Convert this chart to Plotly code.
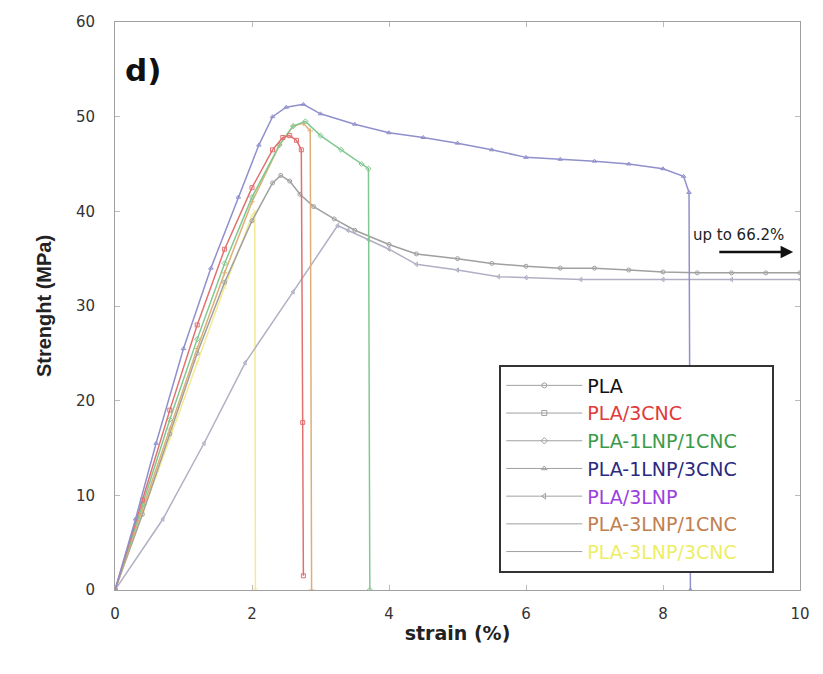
import plotly.graph_objects as go

# ---- data ----
pla_x = [0, 0.4, 0.8, 1.2, 1.6, 2.0, 2.3, 2.42, 2.55, 2.7, 2.9, 3.2, 3.5, 4.0, 4.4, 5.0, 5.5, 6.0, 6.5, 7.0, 7.5, 8.0, 8.5, 9.0, 9.5, 10.0]
pla_y = [0, 8, 16.5, 25, 32.5, 39, 43, 43.8, 43.2, 41.8, 40.5, 39.2, 38, 36.5, 35.5, 35, 34.5, 34.2, 34, 34, 33.8, 33.6, 33.5, 33.5, 33.5, 33.5]

cnc3_x = [0, 0.4, 0.8, 1.2, 1.6, 2.0, 2.3, 2.45, 2.55, 2.65, 2.72, 2.74, 2.75]
cnc3_y = [0, 9.5, 19, 28, 36, 42.5, 46.5, 47.8, 48, 47.5, 46.5, 17.7, 1.5]

l1c1_x = [0, 0.4, 0.8, 1.2, 1.6, 2.0, 2.4, 2.6, 2.78, 3.0, 3.3, 3.6, 3.7, 3.72]
l1c1_y = [0, 9, 18, 26.5, 34.5, 41.5, 47, 49, 49.5, 48, 46.5, 45, 44.5, 0]

l1c3_x = [0, 0.3, 0.6, 1.0, 1.4, 1.8, 2.1, 2.3, 2.5, 2.75, 3.0, 3.5, 4.0, 4.5, 5.0, 5.5, 6.0, 6.5, 7.0, 7.5, 8.0, 8.3, 8.38, 8.4]
l1c3_y = [0, 7.5, 15.5, 25.5, 34, 41.5, 47, 50, 51, 51.3, 50.3, 49.2, 48.3, 47.8, 47.2, 46.5, 45.7, 45.5, 45.3, 45, 44.5, 43.7, 42, 0]

lnp3_x = [0, 0.7, 1.3, 1.9, 2.6, 3.25, 3.4, 3.7, 4.0, 4.4, 5.0, 5.6, 6.0, 6.8, 8.0, 9.0, 10.0]
lnp3_y = [0, 7.5, 15.5, 24, 31.5, 38.5, 38, 37, 36, 34.4, 33.8, 33.1, 33, 32.8, 32.8, 32.8, 32.8]

l3c1_x = [0, 0.4, 0.8, 1.2, 1.6, 2.0, 2.4, 2.6, 2.75, 2.85, 2.87]
l3c1_y = [0, 8.5, 17, 25.5, 33.5, 41, 47, 49, 49.3, 48.5, 0]

l3c3_x = [0, 0.4, 0.8, 1.2, 1.6, 2.0, 2.04, 2.05]
l3c3_y = [0, 8, 16, 24, 32, 39.5, 40, 0]

names = ["PLA", "PLA/3CNC", "PLA-1LNP/1CNC", "PLA-1LNP/3CNC", "PLA/3LNP", "PLA-3LNP/1CNC", "PLA-3LNP/3CNC"]
text_colors = ["#111111", "#e03a3a", "#3a9a4a", "#2a2a80", "#9a40e0", "#c08050", "#eeee66"]
line_colors = ["#a0a0a0", "#e27070", "#80c890", "#9090cc", "#b0b0c4", "#dcb078", "#f2ea94"]
symbols = ["circle-open", "square-open", "diamond-open", "triangle-up-open", "triangle-left-open", "cross-thin", "x-thin"]
series = [(pla_x, pla_y), (cnc3_x, cnc3_y), (l1c1_x, l1c1_y), (l1c3_x, l1c3_y),
          (lnp3_x, lnp3_y), (l3c1_x, l3c1_y), (l3c3_x, l3c3_y)]

fig = go.Figure()
order = [6, 4, 0, 5, 2, 1, 3]
for i in order:
    xs, ys = series[i]
    fig.add_trace(go.Scatter(
        x=xs, y=ys, mode="lines+markers", showlegend=False,
        line=dict(color=line_colors[i], width=1.5),
        marker=dict(symbol=symbols[i], size=4, color=line_colors[i], line=dict(width=1, color=line_colors[i])),
    ))
for i in range(7):
    fig.add_trace(go.Scatter(
        x=[None], y=[None], mode="lines+markers",
        name=f"<span style='color:{text_colors[i]}'>{names[i]}</span>&nbsp;&nbsp;&nbsp;&nbsp;&nbsp;",
        line=dict(color="#a0a0a0", width=1),
        marker=dict(symbol=symbols[i], size=5, color="#a0a0a0"),
    ))

tickfont = dict(family="DejaVu Sans, Liberation Sans, Arial", size=15, color="#333333")
axis_common = dict(showline=True, linecolor="#a0a0a0", linewidth=1, mirror="ticks",
                   ticks="inside", ticklen=5, tickcolor="#bbbbbb", showgrid=False, zeroline=False,
                   tickfont=tickfont, automargin=False)

fig.update_layout(
    width=823, height=674,
    margin=dict(l=107, r=31, t=14, b=92),
    plot_bgcolor="white", paper_bgcolor="white",
    xaxis=dict(range=[0, 10], dtick=2, ticklabelstandoff=10,
               title=dict(text="<b>strain (%)</b>", font=dict(family="DejaVu Sans, Arial", size=19, color="#222"), standoff=4),
               **axis_common),
    yaxis=dict(range=[0, 60], dtick=10, ticklabelstandoff=16,
               title=dict(text="<b>Strenght (MPa)</b>", font=dict(family="Liberation Sans, Arial", size=20, color="#222"), standoff=18),
               **axis_common),
    legend=dict(x=0.561, y=0.397, xanchor="left", yanchor="top",
                bordercolor="#333333", borderwidth=2, bgcolor="white",
                font=dict(family="DejaVu Sans, Liberation Sans, Arial", size=19), itemwidth=76),
    showlegend=True,
)

fig.add_annotation(xref="paper", yref="paper", x=0.012, y=0.915, text="<b>d)</b>", showarrow=False,
                   xanchor="left", yanchor="middle", font=dict(family="DejaVu Sans, Arial", size=31, color="#111"))
fig.add_annotation(x=9.1, y=37.5, text="up to 66.2%", showarrow=False,
                   font=dict(family="DejaVu Sans, Arial", size=15, color="#222"))
fig.add_annotation(x=9.9, y=35.7, ax=8.8, ay=35.7, axref="x", ayref="y", xref="x", yref="y",
                   text="", showarrow=True, arrowhead=2, arrowsize=1, arrowwidth=2.5, arrowcolor="#111")

fig.write_html("out.html")
